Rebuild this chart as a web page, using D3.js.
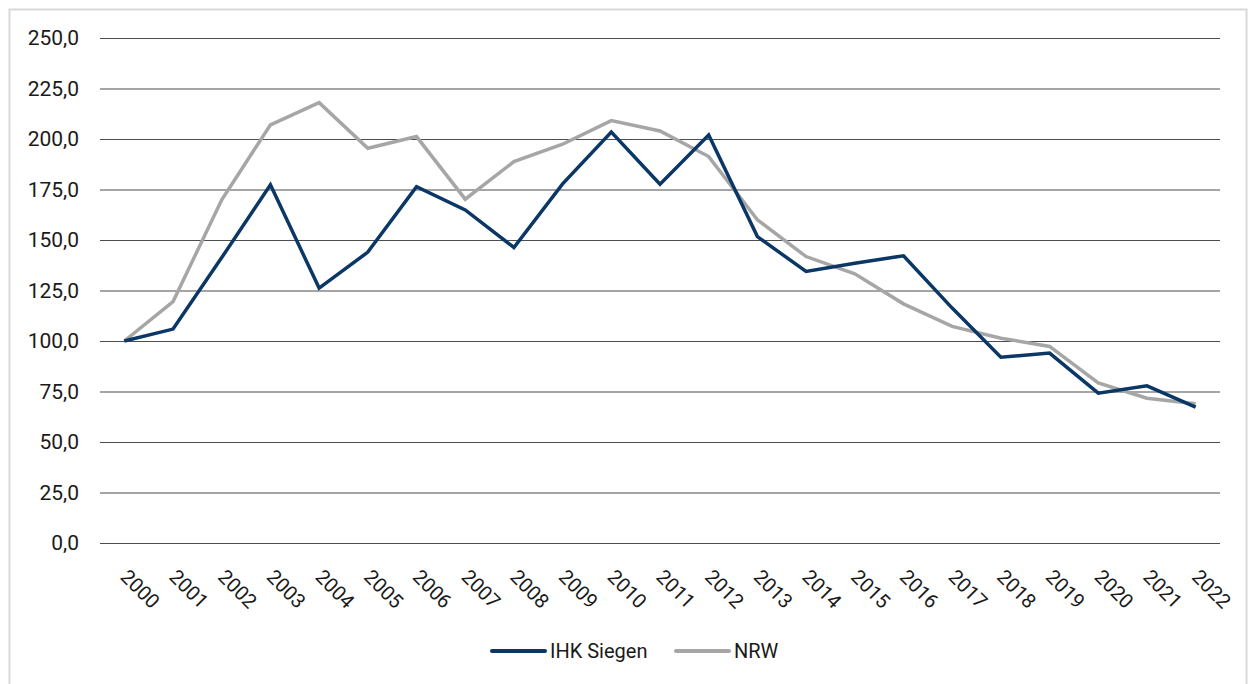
<!DOCTYPE html>
<html>
<head>
<meta charset="utf-8">
<script src="https://cdn.jsdelivr.net/npm/d3@7"></script>
<style>
  body { margin: 0; background: #fff; }
  text { font-family: Roboto, "Noto Sans", sans-serif; fill: #1a1a1a; }
</style>
</head>
<body>
<svg class="chart"></svg>
<script>
var years = ['2000', '2001', '2002', '2003', '2004', '2005', '2006', '2007', '2008', '2009', '2010', '2011',
             '2012', '2013', '2014', '2015', '2016', '2017', '2018', '2019', '2020', '2021', '2022'];
var ihkSiegen = [100.0, 105.9, 141.3, 177.3, 126.2, 144.0, 176.4, 164.9, 146.3, 177.8, 203.4, 177.6,
                 202.0, 151.7, 134.4, 138.5, 142.2, 116.3, 92.0, 94.0, 74.2, 77.8, 67.3];
var nrw = [100.0, 119.5, 169.9, 207.0, 218.0, 195.4, 201.2, 170.2, 188.8, 197.4, 209.1, 204.0,
           191.3, 160.0, 141.8, 133.3, 118.4, 107.2, 101.4, 97.3, 79.2, 71.7, 68.9];
var yTicks = [0, 25, 50, 75, 100, 125, 150, 175, 200, 225, 250];
var seriesNames = ['IHK Siegen', 'NRW'];

function show() {
    'use strict';

    var W = 1255, H = 684;
    var margin = { top: 38, left: 100, right: 35, bottom: 141 };
    var width = W - margin.left - margin.right,
        height = H - margin.top - margin.bottom;

    var colors = ['#0a3766', '#a6a6a6'];
    var series = [ihkSiegen, nrw];

    var svg = d3.select('.chart')
        .attr('width', W)
        .attr('height', H);

    // outer frame
    svg.append('rect')
        .attr('x', 9.5).attr('y', 9.5)
        .attr('width', 1237).attr('height', 690)
        .attr('fill', 'none')
        .attr('stroke', '#d9d9d9')
        .attr('stroke-width', 2);

    var chart = svg.append('g')
        .attr('transform', 'translate(' + margin.left + ',' + margin.top + ')');

    var x = d3.scalePoint().domain(years).range([0, width]).padding(0.5);
    var y = d3.scaleLinear().domain([0, 250]).range([height, 0]);

    // gridlines + y labels
    var yAxis = chart.append('g')
        .call(d3.axisLeft(y).tickValues(yTicks).tickSize(-width).tickPadding(21)
            .tickFormat(function (d) { return d3.format('.1f')(d).replace('.', ','); }));
    yAxis.select('.domain').remove();
    yAxis.selectAll('line').attr('stroke', '#4d4d4d').attr('stroke-width', 1.1);
    yAxis.selectAll('text').attr('font-size', 21).attr('fill', '#1a1a1a');

    // rotated year labels
    chart.append('g')
        .selectAll('text').data(years)
        .enter().append('text')
            .attr('transform', function (d) {
                return 'translate(' + (x(d) - 5) + ',' + (height + 35) + ') rotate(45)';
            })
            .attr('font-size', 20)
            .text(function (d) { return d; });

    var line = d3.line()
        .x(function (d, i) { return x(years[i]); })
        .y(function (d) { return y(d); });

    // grey first so the blue one sits on top
    [1, 0].forEach(function (k) {
        chart.append('path')
            .datum(series[k])
            .attr('d', line)
            .attr('fill', 'none')
            .attr('stroke', colors[k])
            .attr('stroke-width', 3.5)
            .attr('stroke-linejoin', 'miter');
    });

    // legend
    var legendX = [492, 676];
    var legend = svg.append('g');
    seriesNames.forEach(function (name, k) {
        legend.append('line')
            .attr('x1', legendX[k]).attr('x2', legendX[k] + 53)
            .attr('y1', 651).attr('y2', 651)
            .attr('stroke', colors[k])
            .attr('stroke-width', 4)
            .attr('stroke-linecap', 'round');
        legend.append('text')
            .attr('x', legendX[k] + 58)
            .attr('y', 651)
            .attr('dy', '0.36em')
            .attr('font-size', 20)
            .text(name);
    });
}
show();
</script>
</body>
</html>
